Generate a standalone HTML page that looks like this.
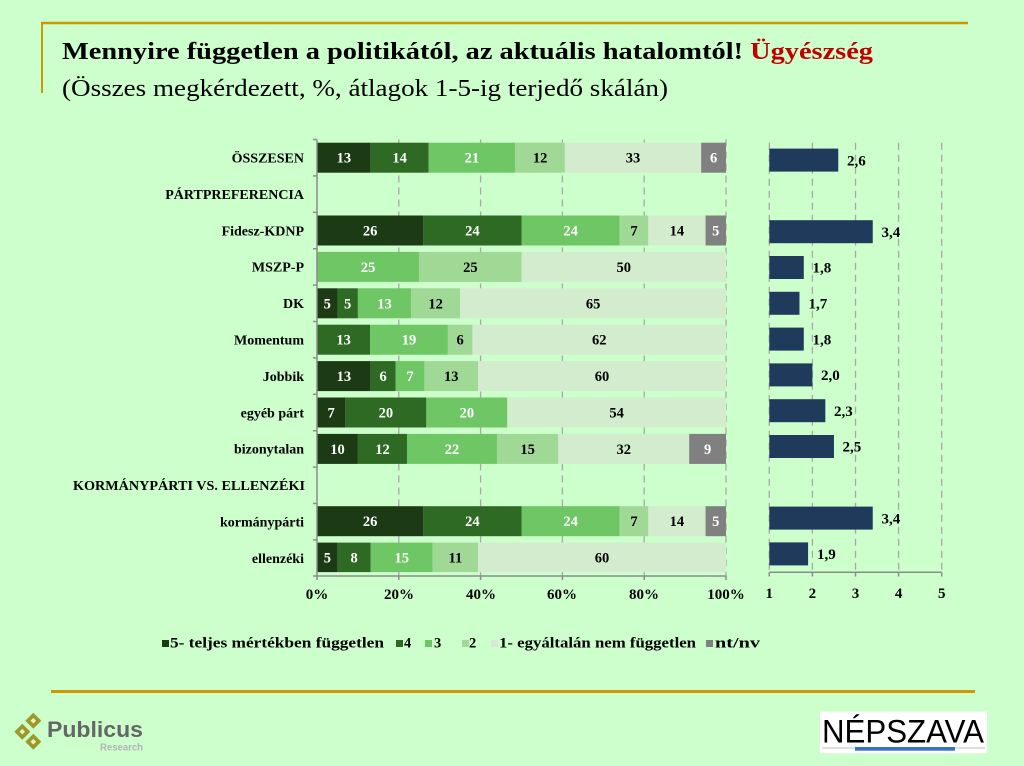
<!DOCTYPE html>
<html><head><meta charset="utf-8"><style>
html,body{margin:0;padding:0;background:#ccffcc;}
svg{display:block;}
text{font-family:"Liberation Serif",serif;}
</style></head><body>
<svg width="1024" height="766" viewBox="0 0 1024 766" xmlns="http://www.w3.org/2000/svg">
<rect x="0" y="0" width="1024" height="766" fill="#ccffcc"/>
<!-- gold frame lines -->
<line x1="41" y1="23" x2="968" y2="23" stroke="#cc9900" stroke-width="2.5"/>
<line x1="42" y1="23" x2="42" y2="93" stroke="#cc9900" stroke-width="2"/>
<line x1="51" y1="691.5" x2="975" y2="691.5" stroke="#cc9900" stroke-width="3"/>

<!-- title -->
<text x="62" y="59" font-size="24" font-weight="bold" fill="#000" textLength="811" lengthAdjust="spacingAndGlyphs">Mennyire független a politikától, az aktuális hatalomtól! <tspan fill="#c00000">Ügyészség</tspan></text>
<text x="62" y="96" font-size="24" fill="#000" textLength="606" lengthAdjust="spacingAndGlyphs">(Összes megkérdezett, %, átlagok 1-5-ig terjedő skálán)</text>

<!-- left chart gridlines -->
<g stroke="#a8a8a8" stroke-width="1.3" stroke-dasharray="7,5">
<line x1="398.8" y1="139.5" x2="398.8" y2="576"/>
<line x1="480.6" y1="139.5" x2="480.6" y2="576"/>
<line x1="562.4" y1="139.5" x2="562.4" y2="576"/>
<line x1="644.2" y1="139.5" x2="644.2" y2="576"/>
<line x1="726" y1="139.5" x2="726" y2="576"/>
</g>

<!-- left chart bars -->
<g>
<rect x="317" y="142.7" width="53.71" height="30" fill="#1c3a14"/>
<rect x="370.71" y="142.7" width="57.84" height="30" fill="#2e6a24"/>
<rect x="428.55" y="142.7" width="86.75" height="30" fill="#6fc664"/>
<rect x="515.3" y="142.7" width="49.58" height="30" fill="#9fd995"/>
<rect x="564.88" y="142.7" width="136.33" height="30" fill="#d3ecce"/>
<rect x="701.21" y="142.7" width="24.79" height="30" fill="#808080"/>

<rect x="317" y="215.5" width="106.34" height="30" fill="#1c3a14"/>
<rect x="423.34" y="215.5" width="98.16" height="30" fill="#2e6a24"/>
<rect x="521.5" y="215.5" width="98.16" height="30" fill="#6fc664"/>
<rect x="619.66" y="215.5" width="28.63" height="30" fill="#9fd995"/>
<rect x="648.29" y="215.5" width="57.26" height="30" fill="#d3ecce"/>
<rect x="705.55" y="215.5" width="20.45" height="30" fill="#808080"/>

<rect x="317" y="251.9" width="102.25" height="30" fill="#6fc664"/>
<rect x="419.25" y="251.9" width="102.25" height="30" fill="#9fd995"/>
<rect x="521.5" y="251.9" width="204.5" height="30" fill="#d3ecce"/>

<rect x="317" y="288.3" width="20.45" height="30" fill="#1c3a14"/>
<rect x="337.45" y="288.3" width="20.45" height="30" fill="#2e6a24"/>
<rect x="357.9" y="288.3" width="53.17" height="30" fill="#6fc664"/>
<rect x="411.07" y="288.3" width="49.08" height="30" fill="#9fd995"/>
<rect x="460.15" y="288.3" width="265.85" height="30" fill="#d3ecce"/>

<rect x="317" y="324.7" width="53.17" height="30" fill="#2e6a24"/>
<rect x="370.17" y="324.7" width="77.71" height="30" fill="#6fc664"/>
<rect x="447.88" y="324.7" width="24.54" height="30" fill="#9fd995"/>
<rect x="472.42" y="324.7" width="253.58" height="30" fill="#d3ecce"/>

<rect x="317" y="361.1" width="53.71" height="30" fill="#1c3a14"/>
<rect x="370.71" y="361.1" width="24.78" height="30" fill="#2e6a24"/>
<rect x="395.49" y="361.1" width="28.92" height="30" fill="#6fc664"/>
<rect x="424.41" y="361.1" width="53.71" height="30" fill="#9fd995"/>
<rect x="478.12" y="361.1" width="247.88" height="30" fill="#d3ecce"/>

<rect x="317" y="397.5" width="28.35" height="30" fill="#1c3a14"/>
<rect x="345.35" y="397.5" width="80.99" height="30" fill="#2e6a24"/>
<rect x="426.34" y="397.5" width="80.99" height="30" fill="#6fc664"/>
<rect x="507.33" y="397.5" width="218.67" height="30" fill="#d3ecce"/>

<rect x="317" y="433.9" width="40.9" height="30" fill="#1c3a14"/>
<rect x="357.9" y="433.9" width="49.08" height="30" fill="#2e6a24"/>
<rect x="406.98" y="433.9" width="89.98" height="30" fill="#6fc664"/>
<rect x="496.96" y="433.9" width="61.35" height="30" fill="#9fd995"/>
<rect x="558.31" y="433.9" width="130.88" height="30" fill="#d3ecce"/>
<rect x="689.19" y="433.9" width="36.81" height="30" fill="#808080"/>

<rect x="317" y="506.2" width="106.34" height="30" fill="#1c3a14"/>
<rect x="423.34" y="506.2" width="98.16" height="30" fill="#2e6a24"/>
<rect x="521.5" y="506.2" width="98.16" height="30" fill="#6fc664"/>
<rect x="619.66" y="506.2" width="28.63" height="30" fill="#9fd995"/>
<rect x="648.29" y="506.2" width="57.26" height="30" fill="#d3ecce"/>
<rect x="705.55" y="506.2" width="20.45" height="30" fill="#808080"/>

<rect x="317" y="542.6" width="20.66" height="29.5" fill="#1c3a14"/>
<rect x="337.66" y="542.6" width="33.05" height="29.5" fill="#2e6a24"/>
<rect x="370.71" y="542.6" width="61.97" height="29.5" fill="#6fc664"/>
<rect x="432.68" y="542.6" width="45.44" height="29.5" fill="#9fd995"/>
<rect x="478.12" y="542.6" width="247.88" height="29.5" fill="#d3ecce"/>
</g>

<!-- bar value labels -->
<g font-size="14.5" font-weight="bold" text-anchor="middle">
<text x="343.85" y="162.7" fill="#fff">13</text>
<text x="399.63" y="162.7" fill="#fff">14</text>
<text x="471.93" y="162.7" fill="#fff">21</text>
<text x="540.09" y="162.7" fill="#000">12</text>
<text x="633.05" y="162.7" fill="#000">33</text>
<text x="713.6" y="162.7" fill="#fff">6</text>

<text x="370.17" y="235.5" fill="#fff">26</text>
<text x="472.42" y="235.5" fill="#fff">24</text>
<text x="570.58" y="235.5" fill="#fff">24</text>
<text x="633.98" y="235.5" fill="#000">7</text>
<text x="676.92" y="235.5" fill="#000">14</text>
<text x="715.78" y="235.5" fill="#fff">5</text>

<text x="368.13" y="271.9" fill="#fff">25</text>
<text x="470.38" y="271.9" fill="#000">25</text>
<text x="623.75" y="271.9" fill="#000">50</text>

<text x="327.23" y="308.3" fill="#fff">5</text>
<text x="347.68" y="308.3" fill="#fff">5</text>
<text x="384.49" y="308.3" fill="#fff">13</text>
<text x="435.61" y="308.3" fill="#000">12</text>
<text x="593.08" y="308.3" fill="#000">65</text>

<text x="343.59" y="344.7" fill="#fff">13</text>
<text x="409.03" y="344.7" fill="#fff">19</text>
<text x="460.15" y="344.7" fill="#000">6</text>
<text x="599.21" y="344.7" fill="#000">62</text>

<text x="343.85" y="381.1" fill="#fff">13</text>
<text x="383.1" y="381.1" fill="#fff">6</text>
<text x="409.95" y="381.1" fill="#fff">7</text>
<text x="451.26" y="381.1" fill="#000">13</text>
<text x="602.06" y="381.1" fill="#000">60</text>

<text x="331.17" y="417.5" fill="#fff">7</text>
<text x="385.84" y="417.5" fill="#fff">20</text>
<text x="466.83" y="417.5" fill="#fff">20</text>
<text x="616.66" y="417.5" fill="#000">54</text>

<text x="337.45" y="453.9" fill="#fff">10</text>
<text x="382.44" y="453.9" fill="#fff">12</text>
<text x="451.97" y="453.9" fill="#fff">22</text>
<text x="527.64" y="453.9" fill="#000">15</text>
<text x="623.75" y="453.9" fill="#000">32</text>
<text x="707.6" y="453.9" fill="#fff">9</text>

<text x="370.17" y="526.2" fill="#fff">26</text>
<text x="472.42" y="526.2" fill="#fff">24</text>
<text x="570.58" y="526.2" fill="#fff">24</text>
<text x="633.98" y="526.2" fill="#000">7</text>
<text x="676.92" y="526.2" fill="#000">14</text>
<text x="715.78" y="526.2" fill="#fff">5</text>

<text x="327.33" y="562.4" fill="#fff">5</text>
<text x="354.18" y="562.4" fill="#fff">8</text>
<text x="401.7" y="562.4" fill="#fff">15</text>
<text x="455.4" y="562.4" fill="#000">11</text>
<text x="602.06" y="562.4" fill="#000">60</text>
</g>

<!-- left axes -->
<g stroke="#8c8c8c" stroke-width="1.5" fill="none">
<line x1="317" y1="139.5" x2="317" y2="576"/>
<line x1="317" y1="576" x2="726" y2="576"/>
<line x1="313" y1="139.5" x2="317" y2="139.5"/>
<line x1="313" y1="175.9" x2="317" y2="175.9"/>
<line x1="313" y1="212.3" x2="317" y2="212.3"/>
<line x1="313" y1="248.7" x2="317" y2="248.7"/>
<line x1="313" y1="285.1" x2="317" y2="285.1"/>
<line x1="313" y1="321.5" x2="317" y2="321.5"/>
<line x1="313" y1="357.9" x2="317" y2="357.9"/>
<line x1="313" y1="394.3" x2="317" y2="394.3"/>
<line x1="313" y1="430.7" x2="317" y2="430.7"/>
<line x1="313" y1="467.1" x2="317" y2="467.1"/>
<line x1="313" y1="503.5" x2="317" y2="503.5"/>
<line x1="313" y1="539.9" x2="317" y2="539.9"/>
<line x1="313" y1="576" x2="317" y2="576"/>
<line x1="317" y1="576" x2="317" y2="580"/>
<line x1="398.8" y1="576" x2="398.8" y2="580"/>
<line x1="480.6" y1="576" x2="480.6" y2="580"/>
<line x1="562.4" y1="576" x2="562.4" y2="580"/>
<line x1="644.2" y1="576" x2="644.2" y2="580"/>
<line x1="726" y1="576" x2="726" y2="580"/>
</g>
<g font-size="15" font-weight="bold" text-anchor="middle" fill="#000">
<text x="317" y="599">0%</text>
<text x="399" y="599">20%</text>
<text x="481" y="599">40%</text>
<text x="562" y="599">60%</text>
<text x="644" y="599">80%</text>
<text x="726" y="599">100%</text>
</g>

<!-- row labels -->
<g font-size="14" font-weight="bold" text-anchor="end" fill="#000">
<text x="304" y="162.5">ÖSSZESEN</text>
<text x="304" y="198.9">PÁRTPREFERENCIA</text>
<text x="304" y="235.3">Fidesz-KDNP</text>
<text x="304" y="271.7">MSZP-P</text>
<text x="304" y="308.1">DK</text>
<text x="304" y="344.5">Momentum</text>
<text x="304" y="380.9">Jobbik</text>
<text x="304" y="417.3">egyéb párt</text>
<text x="304" y="453.7">bizonytalan</text>
<text x="305" y="490.1" textLength="232" lengthAdjust="spacingAndGlyphs">KORMÁNYPÁRTI VS. ELLENZÉKI</text>
<text x="304" y="526.5">kormánypárti</text>
<text x="304" y="562.9">ellenzéki</text>
</g>

<!-- right chart gridlines -->
<g stroke="#a8a8a8" stroke-width="1.3" stroke-dasharray="7,5">
<line x1="769.3" y1="142.7" x2="769.3" y2="572.3"/>
<line x1="812.4" y1="142.7" x2="812.4" y2="572.3"/>
<line x1="855.5" y1="142.7" x2="855.5" y2="572.3"/>
<line x1="898.6" y1="142.7" x2="898.6" y2="572.3"/>
<line x1="941.7" y1="142.7" x2="941.7" y2="572.3"/>
</g>
<!-- right bars -->
<g fill="#1f3a5a">
<rect x="769.3" y="148.6" width="68.96" height="23"/>
<rect x="769.3" y="220.2" width="103.44" height="23"/>
<rect x="769.3" y="256" width="34.48" height="23"/>
<rect x="769.3" y="291.8" width="30.17" height="23"/>
<rect x="769.3" y="327.6" width="34.48" height="23"/>
<rect x="769.3" y="363.4" width="43.1" height="23"/>
<rect x="769.3" y="399.2" width="56.03" height="23"/>
<rect x="769.3" y="435" width="64.65" height="23"/>
<rect x="769.3" y="506.6" width="103.44" height="23"/>
<rect x="769.3" y="542.4" width="38.79" height="23"/>
</g>
<g font-size="15" font-weight="bold" fill="#000">
<text x="847" y="165.3">2,6</text>
<text x="881.5" y="236.9">3,4</text>
<text x="812.5" y="272.7">1,8</text>
<text x="808.5" y="308.5">1,7</text>
<text x="812.5" y="344.3">1,8</text>
<text x="821" y="380.1">2,0</text>
<text x="834" y="415.9">2,3</text>
<text x="842.5" y="451.7">2,5</text>
<text x="881.5" y="523.3">3,4</text>
<text x="817" y="559.1">1,9</text>
</g>
<g stroke="#8c8c8c" stroke-width="1.5">
<line x1="769.3" y1="572.3" x2="941.7" y2="572.3"/>
<line x1="769.3" y1="572.3" x2="769.3" y2="576.5"/>
<line x1="812.4" y1="572.3" x2="812.4" y2="576.5"/>
<line x1="855.5" y1="572.3" x2="855.5" y2="576.5"/>
<line x1="898.6" y1="572.3" x2="898.6" y2="576.5"/>
<line x1="941.7" y1="572.3" x2="941.7" y2="576.5"/>
</g>
<g font-size="15" font-weight="bold" text-anchor="middle" fill="#000">
<text x="769.3" y="598">1</text>
<text x="812.4" y="598">2</text>
<text x="855.5" y="598">3</text>
<text x="898.6" y="598">4</text>
<text x="941.7" y="598">5</text>
</g>

<!-- legend -->
<g font-size="14.5" font-weight="bold" fill="#000">
<rect x="162" y="640" width="7" height="7" fill="#1c3a14"/>
<text x="170" y="647.5" textLength="214" lengthAdjust="spacingAndGlyphs">5- teljes mértékben független</text>
<rect x="396" y="640" width="7" height="7" fill="#2e6a24"/>
<text x="404" y="647.5">4</text>
<rect x="425" y="640" width="7" height="7" fill="#6fc664"/>
<text x="434" y="647.5">3</text>
<rect x="462" y="640" width="7" height="7" fill="#9fd995"/>
<text x="469" y="647.5">2</text>
<rect x="491" y="640" width="7" height="7" fill="#dbe8d7"/>
<text x="499" y="647.5" textLength="197" lengthAdjust="spacingAndGlyphs">1- egyáltalán nem független</text>
<rect x="706" y="640" width="7" height="7" fill="#808080"/>
<text x="715" y="647.5" textLength="45" lengthAdjust="spacingAndGlyphs">nt/nv</text>
</g>

<!-- Publicus logo -->
<g>
<polygon points="33.3,712.7 41.3,720.7 33.3,728.7 25.3,720.7" fill="#9a9a2a"/>
<rect x="31.3" y="718.7" width="4" height="4" fill="#e8f0c0" transform="rotate(45 33.3 720.7)"/>
<polygon points="22.3,723.7 30.3,731.7 22.3,739.7 14.3,731.7" fill="#9a9a2a"/>
<rect x="20.3" y="729.7" width="4" height="4" fill="#e8f0c0" transform="rotate(45 22.3 731.7)"/>
<polygon points="33.3,733.7 41.3,741.7 33.3,749.7 25.3,741.7" fill="#9a9a2a"/>
<rect x="31.3" y="739.7" width="4" height="4" fill="#e8f0c0" transform="rotate(45 33.3 741.7)"/>
<text x="47" y="737" font-size="22" font-weight="bold" fill="#666" textLength="96" lengthAdjust="spacingAndGlyphs" style="font-family:'Liberation Sans',sans-serif">Publicus</text>
<text x="100" y="750.5" font-size="10" font-weight="bold" fill="#b4b4b4" textLength="43" lengthAdjust="spacingAndGlyphs" style="font-family:'Liberation Sans',sans-serif">Research</text>
</g>

<!-- Népszava logo -->
<g>
<rect x="820" y="711.7" width="167" height="41.6" fill="#fff"/>
<text x="822" y="742.5" font-size="32" fill="#000" textLength="162" lengthAdjust="spacingAndGlyphs" style="font-family:'Liberation Sans',sans-serif">NÉPSZAVA</text>
<line x1="822" y1="748" x2="985" y2="748" stroke="#c0c0c0" stroke-width="1"/>
<rect x="855" y="747" width="100" height="3.7" fill="#3a6fc8"/>
</g>
</svg>
</body></html>
